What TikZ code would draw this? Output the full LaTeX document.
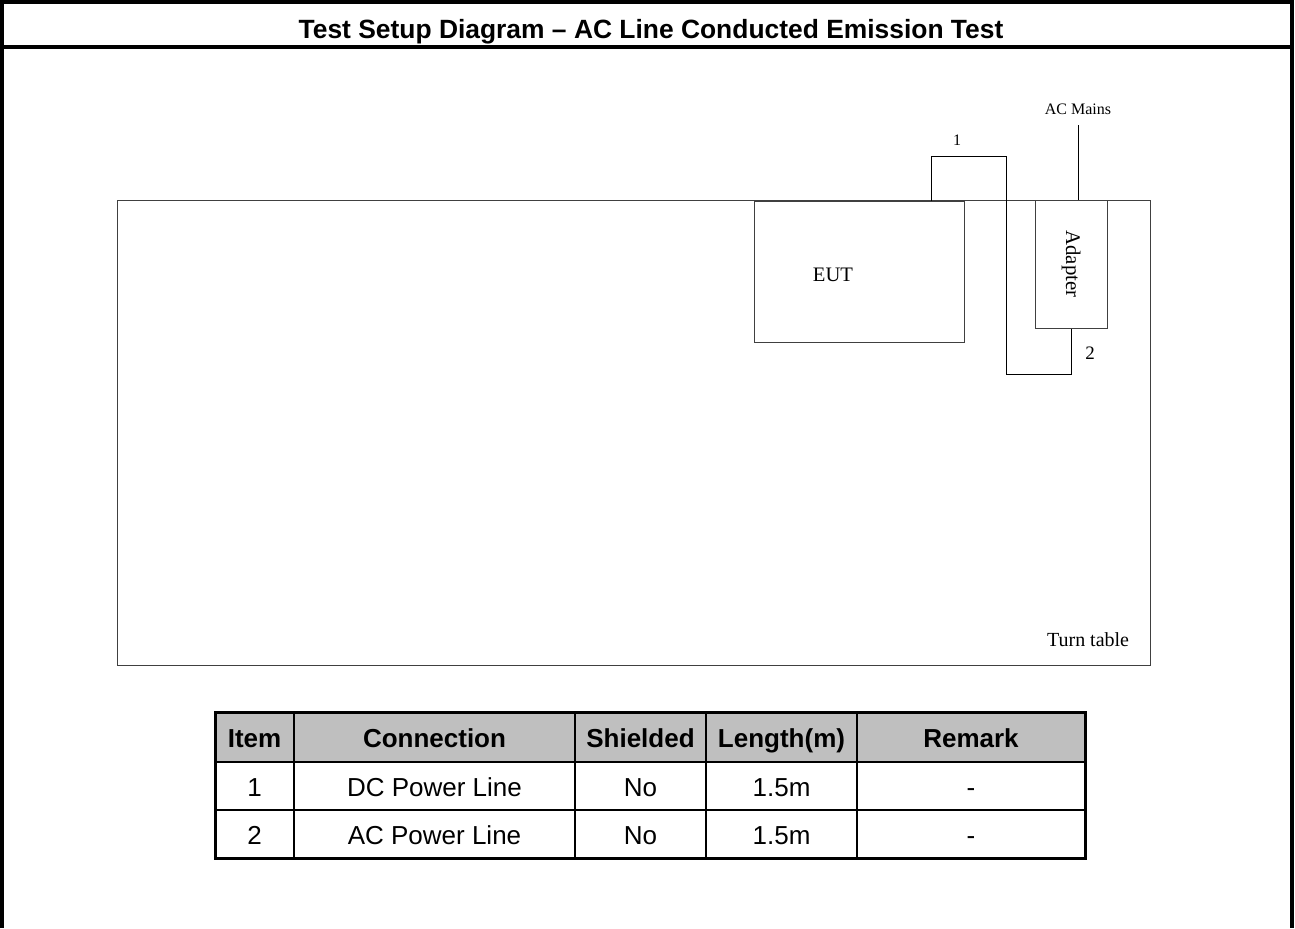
\documentclass[tikz,border=0pt]{standalone}
\usepackage{fontspec}
\setmainfont{Liberation Serif}
\newfontfamily\arialfont{Liberation Sans}
\usetikzlibrary{positioning}

\tikzset{
  thinbox/.style={draw=black!75, line width=0.5pt, inner sep=0pt},
  cable/.style={draw, line width=0.5pt},
  lbl/.style={inner sep=1pt, font=\fontsize{8}{9}\selectfont},
  headcell/.style={anchor=base, inner sep=0pt, font=\arialfont\bfseries\fontsize{13}{15}\selectfont},
  bodycell/.style={anchor=base, inner sep=0pt, font=\arialfont\fontsize{13}{15}\selectfont}
}

\begin{document}
\begin{tikzpicture}[x=0.5pt, y=-0.5pt, line join=miter]
  \useasboundingbox (0,0) rectangle (1295,928);
  % page frame and title bar
  \draw[line width=1.6pt] (2,928) -- (2,2) -- (1292,2) -- (1292,928);
  \draw[line width=1.6pt] (2,47) -- (1292,47);
  \node[anchor=base, inner sep=0pt, font=\arialfont\bfseries\fontsize{13.2}{15}\selectfont] (title) at (651,38)
    {Test Setup Diagram – AC Line Conducted Emission Test};

  % turn table, EUT and adapter
  \node[thinbox, minimum width=516.5pt, minimum height=232.5pt] (turntable) at (633.5,432.5) {};
  \node[inner sep=0pt, anchor=south east, font=\fontsize{10}{12}\selectfont,
    above left=9pt and 10.5pt of turntable.south east] (ttlabel) {Turn table};
  \node[thinbox, minimum width=105pt, minimum height=70.5pt] (eut) at (859,271.5) {};
  \node[font=\fontsize{10.3}{12}\selectfont] (eutlabel) at (833,275) {EUT};
  \node[thinbox, minimum width=36pt, minimum height=64pt, font=\fontsize{10.4}{12}\selectfont]
    (adapter) at (1071,264) {\rotatebox{-90}{Adapter}};

  % cables
  \coordinate (c1) at (931,156);
  \coordinate (c2) at (1006,374);
  \coordinate (mains) at (1078,125);
  \draw[cable] (c1 |- eut.north) -- (c1) -| (c2) -| (adapter.south);
  \draw[cable] (mains) -- (mains |- adapter.north);
  \node[lbl] (n1) at (957,140) {1};
  \node[lbl, font=\fontsize{9.5}{11}\selectfont] (n2) at (1090,353) {2};
  \node[lbl, above=4pt of mains] (mainslabel) {AC Mains};

  % cable table
  \fill[black!25] (215,712) rectangle (1085,762);
  \foreach \xx in {294,575,706,857} \draw[line width=1pt] (\xx,712) -- (\xx,858);
  \foreach \yy in {762,810} \draw[line width=1pt] (215,\yy) -- (1085,\yy);
  \draw[line width=1.5pt] (215,712) rectangle (1085,858);
  \foreach \cx/\txt [count=\i] in {254.5/Item, 434.5/Connection, 640.5/Shielded, 781.5/Length(m), 971/Remark}
    \node[headcell] (head\i) at (\cx,747) {\txt};
  \foreach \cx/\a/\b [count=\i] in {254.5/1/2, 434.5/DC Power Line/AC Power Line, 640.5/No/No, 781.5/1.5m/1.5m, 971/-/-}{
    \node[bodycell] (rowa\i) at (\cx,796) {\a};
    \node[bodycell] (rowb\i) at (\cx,844) {\b};
  }
\end{tikzpicture}
\end{document}
